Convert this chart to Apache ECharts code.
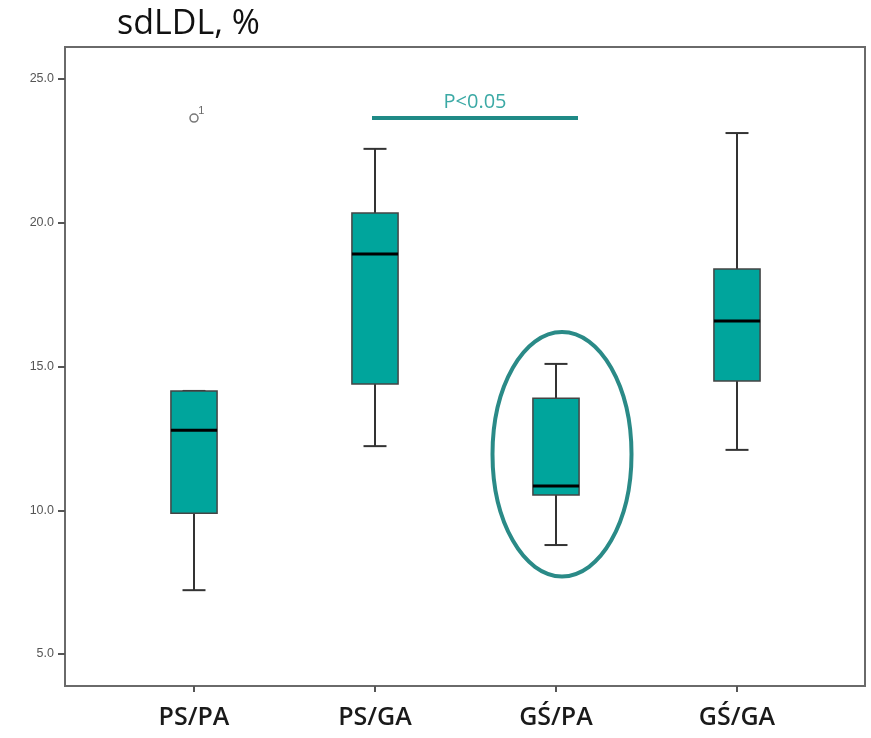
<!DOCTYPE html>
<html>
<head>
<meta charset="utf-8">
<script src="https://cdn.jsdelivr.net/npm/echarts@6/dist/echarts.min.js"></script>
<style>html,body{margin:0;padding:0;background:#fff}#c{width:871px;height:738px}</style>
</head>
<body>
<div id="c"></div>
<script>
const categories = ['PS/PA', 'PS/GA', 'GŚ/PA', 'GŚ/GA'];
// [low whisker, Q1, median, Q3, high whisker]
const boxValues = [
  [7.22, 9.90, 12.78, 14.15, 14.15],
  [12.23, 14.39, 18.91, 20.34, 22.57],
  [8.79, 10.53, 10.84, 13.90, 15.09],
  [12.10, 14.50, 16.58, 18.39, 23.12]
];
const outliers = [[0, 23.64, '1']];
const yTicks = [5, 10, 15, 20, 25];
const chartTitle = 'sdLDL, %';
const pLabel = 'P<0.05';

const chart = echarts.init(document.getElementById('c'));
const teal = '#00A59C';

const option = {
  animation: false,
  title: {
    text: chartTitle, left: 112, top: 2,
    textStyle: {fontFamily: 'Open Sans', fontSize: 34, fontWeight: 'normal', color: '#111'}
  },
  grid: [
    {left: 65, top: 47, width: 800, height: 639, show: true, borderColor: '#6a6a6a', borderWidth: 2, backgroundColor: '#fff'},
    {left: 103.5, top: 79, width: 724, height: 575}
  ],
  xAxis: [
    {gridIndex: 0, type: 'value', show: false, min: 0, max: 1},
    {gridIndex: 1, type: 'category', data: categories, boundaryGap: true, position: 'bottom', offset: 32,
     axisLine: {show: false},
     axisTick: {show: true, alignWithLabel: true, length: 6, lineStyle: {color: '#555', width: 2}},
     axisLabel: {margin: 19, fontFamily: 'Open Sans', fontSize: 25, fontWeight: 600, color: '#1a1a1a'}}
  ],
  yAxis: [
    {gridIndex: 0, type: 'value', show: false, min: 0, max: 1},
    {gridIndex: 1, type: 'value', min: yTicks[0], max: yTicks[yTicks.length - 1], interval: 5, offset: 38.5,
     axisLine: {show: false}, splitLine: {show: false},
     axisTick: {show: true, length: 7, lineStyle: {color: '#555', width: 2}},
     axisLabel: {margin: 11, fontFamily: 'Liberation Sans', fontSize: 12.5, color: '#555',
       formatter: v => v.toFixed(1)}}
  ],
  series: [
    {
      type: 'custom', xAxisIndex: 1, yAxisIndex: 1, clip: false,
      data: boxValues.map((b, i) => [i].concat(b)),
      encode: {x: 0, y: [1, 2, 3, 4, 5]},
      renderItem: function (params, api) {
        const i = api.value(0);
        const band = api.size([1, 0])[0];
        const bw = band * 0.255, cw = band * 0.127;
        const pLow = api.coord([i, api.value(1)]);
        const pQ1 = api.coord([i, api.value(2)]);
        const pMed = api.coord([i, api.value(3)]);
        const pQ3 = api.coord([i, api.value(4)]);
        const pHigh = api.coord([i, api.value(5)]);
        const x = pQ1[0];
        const ln = {stroke: '#333', lineWidth: 2};
        return {
          type: 'group',
          children: [
            {type: 'line', shape: {x1: x, y1: pQ1[1], x2: x, y2: pLow[1]}, style: ln},
            {type: 'line', shape: {x1: x, y1: pQ3[1], x2: x, y2: pHigh[1]}, style: ln},
            {type: 'line', shape: {x1: x - cw / 2, y1: pLow[1], x2: x + cw / 2, y2: pLow[1]}, style: ln},
            {type: 'line', shape: {x1: x - cw / 2, y1: pHigh[1], x2: x + cw / 2, y2: pHigh[1]}, style: ln},
            {type: 'rect', shape: {x: x - bw / 2, y: pQ3[1], width: bw, height: pQ1[1] - pQ3[1]},
             style: {fill: teal, stroke: '#444', lineWidth: 1.5}},
            {type: 'line', shape: {x1: x - bw / 2, y1: pMed[1], x2: x + bw / 2, y2: pMed[1]},
             style: {stroke: '#000', lineWidth: 3}}
          ]
        };
      }
    },
    {
      type: 'scatter', xAxisIndex: 1, yAxisIndex: 1,
      data: outliers.map(o => [o[0], o[1], o[2]]),
      symbol: 'circle', symbolSize: 8,
      itemStyle: {color: '#fff', borderColor: '#555', borderWidth: 1.5},
      label: {show: true, position: [9, -8], formatter: p => p.data[2],
        fontFamily: 'Liberation Sans', fontSize: 11, color: '#444'}
    }
  ]
};
chart.setOption(option);

// annotations positioned through the chart's own scales
const cv = (c, v) => chart.convertToPixel({xAxisIndex: 1, yAxisIndex: 1}, [c, v]);
const pA = cv(categories[1], outliers[0][1]);
const pB = cv(categories[2], outliers[0][1]);
const pCtr = cv(categories[2], 11.95);
const pxPerUnit = (cv(categories[2], 10)[1] - cv(categories[2], 15)[1]) / 5;
chart.setOption({
  graphic: [
    {type: 'line', shape: {x1: pA[0] - 3, y1: pA[1], x2: pB[0] + 22, y2: pB[1]},
     style: {stroke: '#1F8A86', lineWidth: 4}},
    {type: 'text', x: (pA[0] + pB[0] + 19) / 2, y: pA[1] - 6,
     style: {text: pLabel, fill: '#3BA9A5', font: '20px "Open Sans"', textAlign: 'center', textVerticalAlign: 'bottom'}},
    {type: 'ellipse', shape: {cx: pCtr[0] + 6, cy: pCtr[1], rx: 69.5, ry: pxPerUnit * 4.25},
     style: {fill: 'none', stroke: '#2A8A87', lineWidth: 4}}
  ]
});
</script>
</body>
</html>
